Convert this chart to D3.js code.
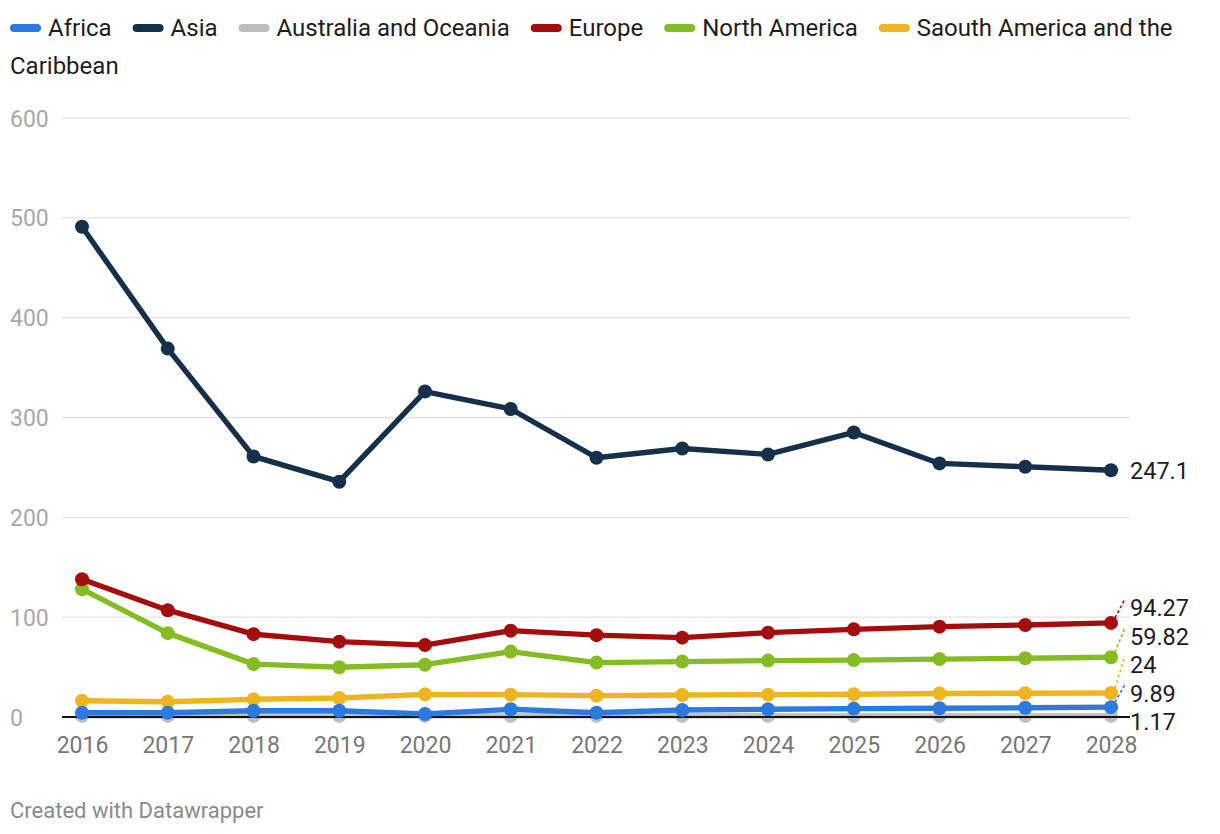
<!DOCTYPE html>
<html><head><meta charset="utf-8">
<script src="https://cdn.jsdelivr.net/npm/d3@7"></script>
<style>
html,body{margin:0;padding:0;background:#fff;}
body{width:1220px;height:834px;position:relative;overflow:hidden;font-family:Roboto,sans-serif;}
svg{position:absolute;left:0;top:0;}
</style></head>
<body>
<svg id="chart" width="1220" height="834"></svg>
<script>
const years = ["2016","2017","2018","2019","2020","2021","2022","2023","2024","2025","2026","2027","2028"];
const seriesNames = ["Africa","Asia","Australia and Oceania","Europe","North America","Saouth America and the Caribbean"];
const seriesColors = ["#2a7ae0","#17304a","#bdbdbd","#a30d0d","#86bc23","#eeb521"];
const africa    = [4.3,4.3,6.3,6.3,3.0,7.7,4.3,7.0,7.7,8.4,8.8,9.2,9.89];
const asia      = [491,369,261,235.7,326,308.5,259.7,269,263,285,254,250.7,247.1];
const australia = [1.1,1.1,1.1,1.1,1.1,1.1,1.1,1.1,1.1,1.1,1.1,1.1,1.17];
const europe    = [138,107,83,75.5,72,86.5,82,79.5,84.5,87.8,90.5,92.2,94.27];
const northAm   = [128,84,53,49.8,52.4,65.5,54.5,55.5,56.5,57,58,58.8,59.82];
const southAm   = [16.3,15.3,17.7,19,22.7,22.4,21.4,22,22.4,22.8,23.5,23.8,24];
const endLabels = ["9.89","247.1","1.17","94.27","59.82","24"];
const yTicks = [0,100,200,300,400,500,600];

const seriesValues = [africa, asia, australia, europe, northAm, southAm];
const series = seriesNames.map((n,i)=>({name:n,color:seriesColors[i],values:seriesValues[i],label:endLabels[i]}));

const svg = d3.select("#chart");

// legend (SVG, with word wrap)
const lg = svg.append("g").style("font-family","Roboto").style("font-size","24px").attr("fill","#1d1d1d");
let lx0 = 10, ly0 = 28; const lineH = 38, maxX = 1205;
series.forEach(s=>{
  lg.append("line").attr("x1",lx0+4).attr("x2",lx0+27).attr("y1",ly0).attr("y2",ly0)
    .attr("stroke",s.color).attr("stroke-width",8).attr("stroke-linecap","round");
  let tx = lx0+38;
  const words = s.name.split(" ");
  let cur = [];
  let t = lg.append("text").attr("x",tx).attr("y",ly0).attr("dy","0.35em");
  words.forEach(w=>{
    const trial = cur.concat([w]).join(" ");
    t.text(trial);
    if(tx + t.node().getComputedTextLength() > maxX && cur.length){
      t.text(cur.join(" "));
      ly0 += lineH; tx = 10; cur = [w];
      t = lg.append("text").attr("x",tx).attr("y",ly0).attr("dy","0.35em").text(w);
    } else cur.push(w);
  });
  lx0 = tx + t.node().getComputedTextLength() + 21;
});

const x = d3.scalePoint().domain(years).range([82,1111]);
const y = d3.scaleLinear().domain([0,600]).range([717,118]);
const gridX0 = 62, gridX1 = 1130;

// grid
svg.append("g").selectAll("line").data(yTicks.filter(t=>t>0)).join("line")
  .attr("x1",gridX0).attr("x2",gridX1).attr("y1",d=>y(d)).attr("y2",d=>y(d))
  .attr("stroke","#e3e3e3").attr("stroke-width",1.4);

// y axis labels
const yAxis = d3.axisLeft(y).tickValues(yTicks).tickSize(0).tickPadding(0);
const ya = svg.append("g").attr("transform","translate(10,0)").call(yAxis);
ya.select(".domain").remove();
ya.selectAll("text").attr("text-anchor","start").attr("x",0).attr("dy","0.35em")
  .style("font-family","Roboto").style("font-size","23px").attr("fill","#a8a8a8");

// x axis labels
const xAxis = d3.axisBottom(x).tickSize(0).tickPadding(0);
const xa = svg.append("g").attr("transform","translate(0,745)").call(xAxis);
xa.select(".domain").remove();
xa.selectAll("text").attr("dy","0.35em").attr("y",0)
  .style("font-family","Roboto").style("font-size","23px").attr("fill","#777");

const line = d3.line().x((d,i)=>x(years[i])).y(d=>y(d));

function drawSeries(s){
  const sg = svg.append("g");
  sg.append("path").datum(s.values).attr("d",line).attr("fill","none")
    .attr("stroke",s.color).attr("stroke-width",5.4).attr("stroke-linejoin","round").attr("stroke-linecap","round");
  sg.selectAll("circle").data(s.values).join("circle")
    .attr("cx",(d,i)=>x(years[i])).attr("cy",d=>y(d)).attr("r",7).attr("fill",s.color);
}

// Australia first (under baseline)
drawSeries(series[2]);
svg.append("line").attr("x1",gridX0).attr("x2",gridX1).attr("y1",y(0)).attr("y2",y(0))
  .attr("stroke","#111").attr("stroke-width",2);
[5,4,3,1,0].forEach(i=>drawSeries(series[i]));

// end labels with collision avoidance
const lastI = years.length-1;
const labs = series.map(s=>({s, dy:y(s.values[lastI]), ly:y(s.values[lastI])}));
const gap = 28.5, maxY = 722;
const sorted = labs.slice().sort((a,b)=>b.dy-a.dy);
for(let it=0; it<300; it++){
  for(let k=0;k<sorted.length-1;k++){
    const a=sorted[k], b=sorted[k+1];
    const d = a.ly-b.ly;
    if(d<gap){ const p=(gap-d)/2; a.ly+=p; b.ly-=p; }
  }
  sorted.forEach(l=>{ if(l.ly>maxY) l.ly=maxY; });
}
const ex = x(years[lastI]);
labs.forEach(l=>{
  if(l.ly < l.dy - 6){
    svg.append("line").attr("x1",ex+4).attr("y1",l.dy-5).attr("x2",ex+14).attr("y2",l.ly-9)
      .attr("stroke",l.s.color).attr("stroke-width",1.6).attr("stroke-dasharray","3,2.5");
  }
  svg.append("text").attr("x",1130).attr("y",l.ly).attr("dy","0.35em")
    .style("font-family","Roboto").style("font-size","23.5px").attr("fill","#1d1d1d")
    .text(l.s.label);
});

// footer
svg.append("text").attr("x",10).attr("y",810).attr("dy","0.35em")
  .style("font-family","Roboto").style("font-size","22px").attr("fill","#8a8a8a")
  .text("Created with Datawrapper");
</script>
</body></html>
